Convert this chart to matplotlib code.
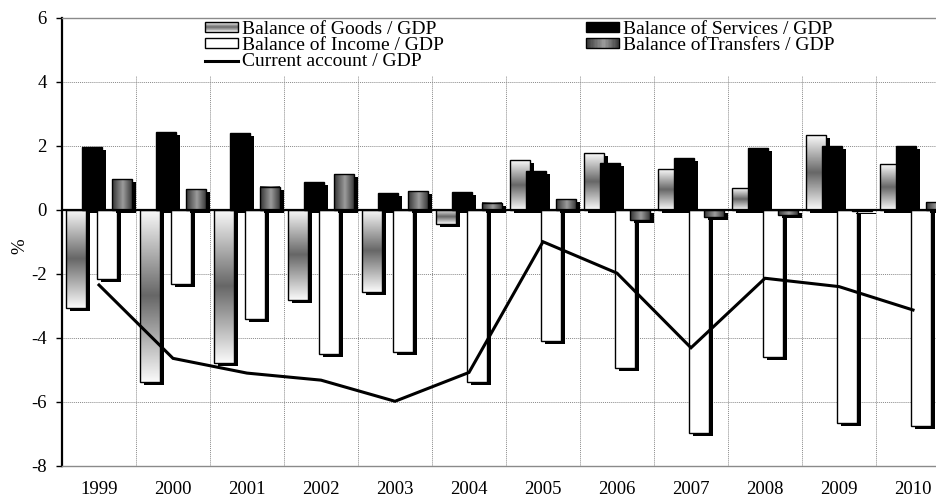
import numpy as np
import matplotlib
matplotlib.use("Agg")
import matplotlib.pyplot as plt
import matplotlib.transforms as mtransforms
from matplotlib.patches import Rectangle
from matplotlib.lines import Line2D
from matplotlib.colors import LinearSegmentedColormap
from matplotlib.legend_handler import HandlerBase

plt.rcParams["font.family"] = ["Liberation Serif", "DejaVu Serif"]
plt.rcParams["axes.unicode_minus"] = False

# Components of the current account, % of GDP
years = ["1999", "2000", "2001", "2002", "2003", "2004",
         "2005", "2006", "2007", "2008", "2009", "2010"]
goods = [-3.07, -5.37, -4.80, -2.82, -2.58, -0.45, 1.55, 1.76, 1.27, 0.67, 2.33, 1.42]
services = [1.96, 2.42, 2.38, 0.85, 0.51, 0.56, 1.22, 1.47, 1.62, 1.94, 1.99, 2.00]
income = [-2.16, -2.33, -3.41, -4.50, -4.43, -5.37, -4.10, -4.93, -6.96, -4.59, -6.67, -6.74]
transfers = [0.96, 0.64, 0.72, 1.12, 0.59, 0.22, 0.34, -0.32, -0.22, -0.15, -0.03, 0.24]
current_account = [-2.35, -4.64, -5.10, -5.32, -5.98, -5.08, -1.00, -1.98, -4.31, -2.14, -2.40, -3.13]

labels = ["Balance of Goods / GDP", "Balance of Income / GDP", "Current account / GDP",
          "Balance of Services / GDP", "Balance ofTransfers / GDP"]

W, H = 937, 497
fig = plt.figure(figsize=(W / 100, H / 100), dpi=100)
ax = fig.add_axes([62 / W, 31 / H, 888 / W, 448.5 / H])

x = np.arange(len(years))
width = 0.27
offsets = [-0.305, -0.10, 0.105, 0.31]

goods_cmap = LinearSegmentedColormap.from_list(
    "goods", [(0, "#fafafa"), (0.5, "#666666"), (1, "#fafafa")])
transfers_cmap = LinearSegmentedColormap.from_list(
    "transfers", [(0, "#343434"), (0.55, "#9c9c9c"), (1, "#3c3c3c")])

shadow_tr = mtransforms.offset_copy(ax.transData, fig=fig, x=4, y=-3, units="dots")


def shadow(xs, vals, z):
    ax.bar(xs, vals, width, color="black", linewidth=0, transform=shadow_tr, zorder=z)


# Goods: shaded along the bar length
xs = x + offsets[0]
shadow(xs, goods, 1.0)
vgrad = np.linspace(0, 1, 128)[:, None]
for xc, v in zip(xs, goods):
    ax.imshow(vgrad, extent=(xc - width / 2, xc + width / 2, 0, v), cmap=goods_cmap,
              aspect="auto", interpolation="bilinear", zorder=1.1)
ax.bar(xs, goods, width, facecolor="none", edgecolor="black", linewidth=1.0, zorder=1.2)

# Services: solid black
xs = x + offsets[1]
shadow(xs, services, 2.0)
ax.bar(xs, services, width, color="black", edgecolor="black", linewidth=1.0, zorder=2.2)

# Income: white
xs = x + offsets[2]
shadow(xs, income, 3.0)
ax.bar(xs, income, width, color="white", edgecolor="black", linewidth=1.0, zorder=3.2)

# Transfers: shaded across the bar width
xs = x + offsets[3]
shadow(xs, transfers, 4.0)
hgrad = np.linspace(0, 1, 64)[None, :]
for xc, v in zip(xs, transfers):
    ax.imshow(hgrad, extent=(xc - width / 2, xc + width / 2, 0, v), cmap=transfers_cmap,
              aspect="auto", interpolation="bilinear", zorder=4.1)
ax.bar(xs, transfers, width, facecolor="none", edgecolor="black", linewidth=1.0, zorder=4.2)

ax.axhline(0, color="black", linewidth=1.6, zorder=5)
ax.plot(x, current_account, color="black", linewidth=2.2, zorder=6,
        solid_joinstyle="miter")

# Axes, grid, ticks
ax.set_xlim(-0.5, len(years) - 0.5)
ax.set_ylim(-8, 6)
ax.set_yticks(np.arange(-8, 7, 2))
ax.set_xticks(x)
ax.set_xticklabels(years)
ax.grid(axis="y", color="#8a8a8a", linestyle=(0, (1, 1)), linewidth=0.7, zorder=0.5)
ax.set_axisbelow(True)
ax.vlines(x[:-1] + 0.5, -8, 4.17, colors="#8a8a8a", linestyles=(0, (1, 1)),
          linewidth=0.7, zorder=0.5)

ax.tick_params(axis="x", length=0, pad=10.5, labelsize=13.5)
ax.tick_params(axis="y", length=4.5, width=1.0, direction="out", pad=6.5, labelsize=13.5)
ax.spines["left"].set_linewidth(1.6)
ax.spines["left"].set_color("black")
for s in ("top", "bottom"):
    ax.spines[s].set_color("#8a8a8a")
    ax.spines[s].set_linewidth(1.0)
ax.spines["right"].set_visible(False)

ax.set_ylabel("%", fontsize=13.5)
ax.yaxis.set_label_coords(-0.038, 0.49)


# Legend with shaded swatches
class GradientHandler(HandlerBase):
    def __init__(self, cmap, along_y):
        super().__init__()
        self.cmap = cmap
        self.along_y = along_y

    def create_artists(self, legend, orig_handle, xdescent, ydescent,
                       width, height, fontsize, trans):
        n = 24
        arts = []
        for i in range(n):
            c = self.cmap((i + 0.5) / n)
            if self.along_y:
                r = Rectangle((-xdescent, -ydescent + i * height / n), width, height / n * 1.05,
                              facecolor=c, linewidth=0, antialiased=False)
            else:
                r = Rectangle((-xdescent + i * width / n, -ydescent), width / n * 1.05, height,
                              facecolor=c, linewidth=0, antialiased=False)
            r.set_transform(trans)
            arts.append(r)
        border = Rectangle((-xdescent, -ydescent), width, height, facecolor="none",
                           edgecolor="black", linewidth=1.0)
        border.set_transform(trans)
        arts.append(border)
        return arts


h_goods = Rectangle((0, 0), 1, 1)
h_transfers = Rectangle((0, 0), 1, 1)
h_income = Rectangle((0, 0), 1, 1, facecolor="white", edgecolor="black", linewidth=1.0)
h_services = Rectangle((0, 0), 1, 1, facecolor="black", edgecolor="black", linewidth=1.0)
h_ca = Line2D([], [], color="black", linewidth=2.2)

ax.legend([h_goods, h_income, h_ca, h_services, h_transfers], labels,
          handler_map={h_goods: GradientHandler(goods_cmap, True),
                       h_transfers: GradientHandler(transfers_cmap, False)},
          ncol=2, loc="upper left", bbox_to_anchor=(205 / W, 1 - 21 / H),
          bbox_transform=fig.transFigure, frameon=False, borderpad=0,
          borderaxespad=0, handlelength=1.7, handleheight=0.4, handletextpad=0.2,
          columnspacing=7.3, labelspacing=-0.04, fontsize=14)

fig.savefig("out.png", dpi=100)
